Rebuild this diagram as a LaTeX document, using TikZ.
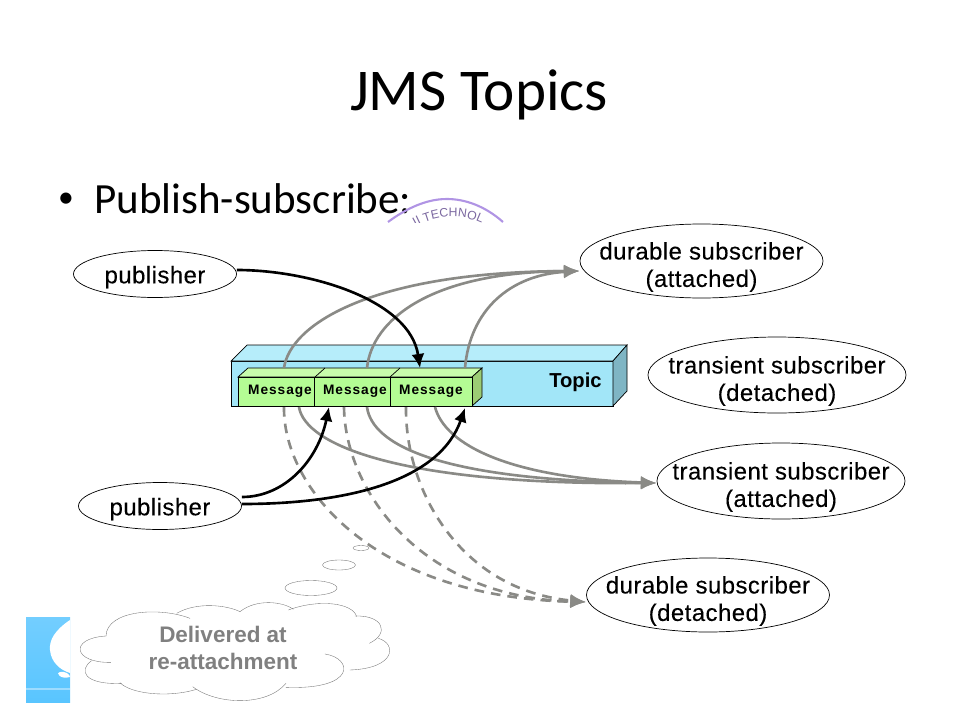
\documentclass[tikz,border=0pt]{standalone}
\usepackage{fontspec}
\setmainfont{Carlito}
\newfontfamily\labelfont{Liberation Sans}
\newfontfamily\endpointfont[FakeBold=0.2,LetterSpace=2]{Liberation Sans}
\newfontfamily\msgfont[LetterSpace=7]{Liberation Sans}
\usetikzlibrary{arrows.meta,decorations.text,shapes.geometric}

\definecolor{topicfront}{HTML}{A2E6F8}
\definecolor{topictop}{HTML}{B6EDFA}
\definecolor{topicside}{HTML}{7FB5C4}
\definecolor{msgfront}{HTML}{B4FC94}
\definecolor{msgtop}{HTML}{C8FCAC}
\definecolor{msgside}{HTML}{9CCC74}
\definecolor{flowgray}{HTML}{8A8A86}
\definecolor{cloudtext}{HTML}{808080}
\definecolor{sealpurple}{HTML}{B094E4}

\newcommand*{\toppad}{\rule{0pt}{16.7pt}}
\newcommand*{\pubpad}{\rule{0pt}{13.4pt}}

\begin{document}
\begin{tikzpicture}
[
	x=0.02cm,
	y=-0.02cm,
	endpoint/.style={ellipse,draw,thin,font=\endpointfont\fontsize{13.6pt}{15.6pt}\selectfont,align=center,inner sep=-40pt},
	msgbox/.style={rectangle,draw,fill=msgfront,thin,inner sep=0pt,minimum width=75.5*0.02cm,minimum height=29*0.02cm,font=\msgfont\bfseries\fontsize{7.8pt}{9pt}\selectfont},
	blackflow/.style={draw=black,line width=1.5pt,-{Latex[length=8pt,width=7.4pt]}},
	grayflow/.style={draw=flowgray,line width=1.5pt,-{Latex[length=9pt,width=7.4pt]}},
	dashflow/.style={grayflow,dash pattern=on 5.5pt off 4pt},
	thought/.style={ellipse,draw=black!55,very thin,fill=white,inner sep=0pt}
]

	\useasboundingbox (0,0) rectangle (960,720);

	% slide text
	\node[anchor=base] (title) at (479,110) {\fontsize{33.7pt}{40pt}\selectfont JMS Topics};
	\node[anchor=base] (bullet) at (66,207) {\fontsize{18pt}{22pt}\selectfont •};
	\node[anchor=base west,inner sep=0pt] (subtitle) at (94,213) {\fontsize{24.5pt}{29pt}\selectfont Publish-subscribe:};

	% seal behind the picture
	\begin{scope}
		\clip (380,190) rectangle (515,222);
		\draw[sealpurple,line width=1.2pt] (388,222) .. controls (415,202) and (435,199) .. (447,199) .. controls (465,199) and (485,206) .. (503,222);
		\path[decorate,decoration={text along path,text align=center,text color=sealpurple!70!black,text={|\labelfont\fontsize{7pt}{8pt}\selectfont|II TECHNOL}}]
			(399,240) .. controls (423,212) and (473,208) .. (499,236);
	\end{scope}

	% logo on the left
	\shade[top color=blue!35!cyan!55,bottom color=blue!35!cyan!65] (26,617) rectangle (70,702);
	\fill[white] (70,620) .. controls (55,630) and (49,640) .. (50,650) .. controls (51,662) and (60,670) .. (70,673) -- cycle;
	\fill[white] (70,677) .. controls (60,680) and (55,672) .. (60,672) .. controls (65,671) and (70,674) .. (70,677) -- cycle;
	\fill[white,opacity=0.4] (26,688) rectangle (70,690);

	% topic bar
	\fill[topicfront,draw=black,thin] (231,361) rectangle (613,406);
	\fill[topictop,draw=black,thin] (231,361) -- (247,345) -- (627,345) -- (613,361) -- cycle;
	\fill[topicside,draw=black,thin] (613,361) -- (627,345) -- (627,391) -- (613,406) -- cycle;
	\node[anchor=east,inner sep=0pt,font=\labelfont\bfseries\fontsize{11.5pt}{13pt}\selectfont] (topic) at (602,382) {Topic};

	% messages
	\fill[msgtop,draw=black,thin] (238,377) -- (248,368) -- (482,368) -- (472,377) -- cycle;
	\fill[msgside,draw=black,thin] (472,377) -- (482,368) -- (482,397) -- (472,406) -- cycle;
	\draw[black,thin] (315,377) -- (325,368) (390,377) -- (400,368);
	\node[msgbox,minimum width=77*0.02cm] (msga) at (276.5,391.5) {\hspace*{4pt}Message};
	\node[msgbox] (msgb) at (352.5,391.5) {\hspace*{2.8pt}Message};
	\node[msgbox,minimum width=82*0.02cm] (msgc) at (431,391.5) {Message};

	% subscribers and publishers
	\node[endpoint,minimum width=163*0.02cm,minimum height=47*0.02cm] (puba) at (155,274) {\pubpad publisher};
	\node[endpoint,minimum width=163*0.02cm,minimum height=47*0.02cm] (pubb) at (160,506) {\pubpad publisher};
	\node[endpoint,minimum width=243*0.02cm,minimum height=74*0.02cm] (subda) at (701.5,261) {\toppad durable subscriber\\(attached)};
	\node[endpoint,minimum width=258*0.02cm,minimum height=76*0.02cm] (subtd) at (777,375) {\toppad transient subscriber\\(detached)};
	\node[endpoint,minimum width=248*0.02cm,minimum height=76*0.02cm] (subta) at (781,481) {\toppad transient subscriber\\(attached)};
	\node[endpoint,minimum width=243*0.02cm,minimum height=74*0.02cm] (subdd) at (708,595) {\toppad durable subscriber\\(detached)};

	% free ends on the message boxes
	\coordinate (topa) at (284,368);
	\coordinate (topb) at (367,368);
	\coordinate (topc) at (465,368);
	\coordinate (inc) at (420,368);
	\coordinate (ina) at (329,407);
	\coordinate (inb) at (465,408);
	\coordinate (lowa) at (299,407);
	\coordinate (lowb) at (367,407);
	\coordinate (lowc) at (435,407);
	\coordinate (dasha) at (284,407);
	\coordinate (dashb) at (344,407);
	\coordinate (dashc) at (406,407);
	\coordinate (intoda) at ([yshift=-0.2cm]subda.west);
	\coordinate (intota) at ([yshift=-0.04cm]subta.west);
	\coordinate (intodd) at ([yshift=-0.14cm]subdd.west);

	% attached durable flows
	\draw[grayflow] (topa) .. controls (290,325) and (370,272) .. (intoda);
	\draw[grayflow] (topb) .. controls (372,320) and (430,272) .. (intoda);
	\draw[grayflow] (topc) .. controls (470,310) and (510,275) .. (intoda);

	% attached transient flows
	\draw[grayflow] (lowa) .. controls (305,445) and (400,485) .. (intota);
	\draw[grayflow] (lowb) .. controls (372,445) and (440,480) .. (intota);
	\draw[grayflow] (lowc) .. controls (445,445) and (510,478) .. (intota);

	% detached durable flows
	\draw[dashflow] (dasha) .. controls (283,487) and (372,597) .. (intodd);
	\draw[dashflow] (dashb) .. controls (345,490) and (420,597) .. (intodd);
	\draw[dashflow] (dashc) .. controls (405,490) and (460,590) .. (intodd);

	% publisher flows
	\draw[blackflow] ([yshift=0.08cm]puba.east) .. controls (310,270) and (410,300) .. (inc);
	\draw[blackflow] ([yshift=0.18cm]pubb.east) .. controls (285,497) and (318,460) .. (ina);
	\draw[blackflow] ([yshift=0.04cm]pubb.east) .. controls (350,504) and (440,480) .. (inb);

	% thought bubble
	\node[thought,minimum width=16*0.02cm,minimum height=5*0.02cm] (puffa) at (361,548) {};
	\node[thought,minimum width=33*0.02cm,minimum height=10*0.02cm] (puffb) at (339,565) {};
	\node[thought,minimum width=52*0.02cm,minimum height=15*0.02cm] (puffc) at (311,588) {};
	\begin{scope}[shift={(0,530)},x=0.02cm/3,y=-0.02cm/3,draw=black!55,very thin]
		\fill[white] (318,318) .. controls (320,240) and (480,230) .. (570,265) -- (720,245) -- (880,238) .. controls (960,205) and (1060,220) .. (1070,260) .. controls (1150,255) and (1160,300) .. (1135,325) .. controls (1180,340) and (1190,415) .. (1050,420) .. controls (1050,450) and (1000,480) .. (858,470) .. controls (800,525) and (650,530) .. (580,475) .. controls (500,505) and (390,490) .. (360,460) .. controls (250,465) and (235,420) .. (275,392) .. controls (220,385) and (215,325) .. (318,318) -- cycle;
		\draw (318,318) .. controls (320,240) and (480,230) .. (570,265);
		\draw (530,250) .. controls (590,215) and (680,225) .. (720,245);
		\draw (720,245) .. controls (770,205) and (850,215) .. (880,238);
		\draw (865,240) .. controls (960,205) and (1060,220) .. (1070,260);
		\draw (1065,258) .. controls (1150,255) and (1170,310) .. (1108,340);
		\draw (1135,325) .. controls (1190,340) and (1190,415) .. (1050,420);
		\draw (975,372) .. controls (1060,385) and (1070,480) .. (858,472);
		\draw (858,460) .. controls (800,530) and (650,525) .. (578,470);
		\draw (590,478) .. controls (500,505) and (390,490) .. (360,458);
		\draw (365,460) .. controls (250,465) and (235,420) .. (275,392);
		\draw (333,397) .. controls (220,400) and (205,325) .. (318,318);
	\end{scope}
	\node[align=center,text=cloudtext,inner sep=0pt,font=\labelfont\bfseries\fontsize{12.8pt}{15.6pt}\selectfont] (cloudnote) at (223,648) {Delivered at\\re-attachment};

\end{tikzpicture}
\end{document}
